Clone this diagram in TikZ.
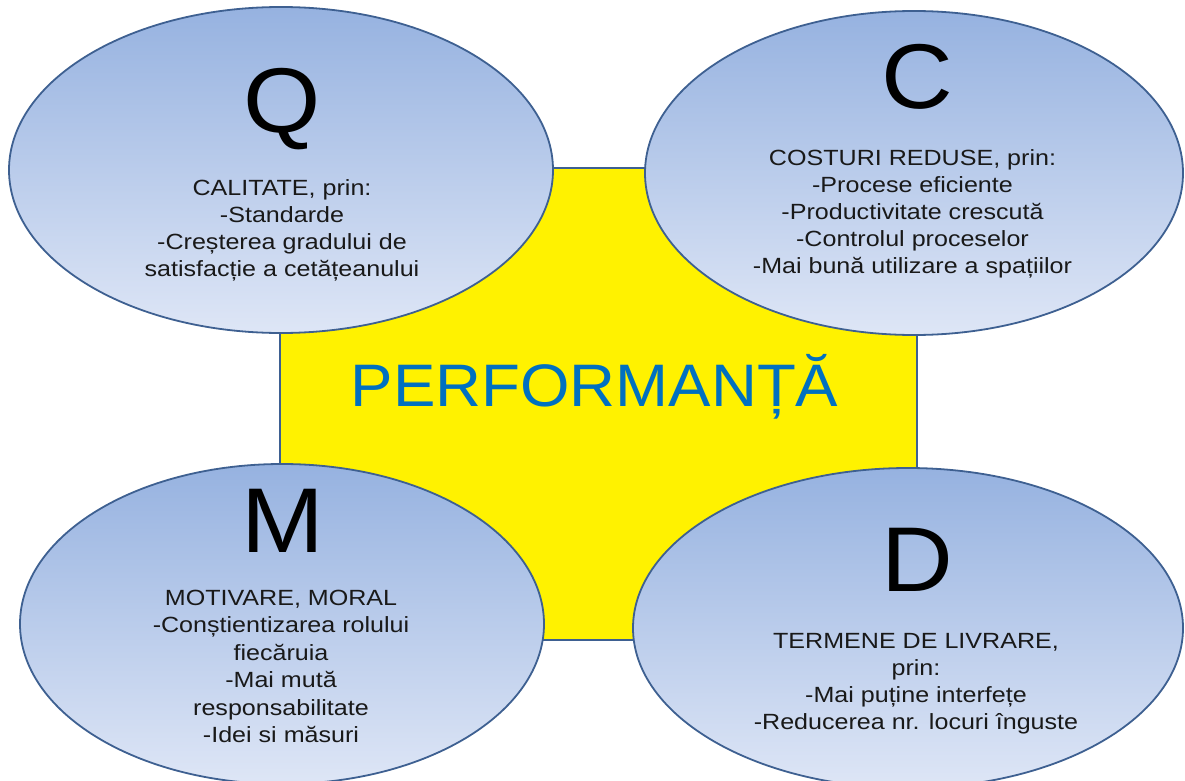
\documentclass[tikz,border=0pt]{standalone}
\usepackage{fontspec}
\setmainfont{Liberation Sans}
\usetikzlibrary{shapes.geometric}
\definecolor{ellTop}{RGB}{150,178,224}
\definecolor{ellBot}{RGB}{222,230,246}
\definecolor{ellLine}{RGB}{62,96,145}
\definecolor{perfBlue}{RGB}{0,112,192}
\begin{document}
\begin{tikzpicture}[x=1pt,y=-1pt,
  oval/.style={ellipse, draw=ellLine, line width=1.8pt, top color=ellTop, bottom color=ellBot, inner sep=0pt},
  bigletter/.style={font=\fontsize{92}{92}\selectfont\addfontfeature{FakeStretch=1.08}, inner sep=0pt, text=black},
  body/.style={font=\fontsize{22}{27}\selectfont\addfontfeature{FakeStretch=1.14}, align=center, inner sep=0pt, text=black!90}
]
\useasboundingbox (0,0) rectangle (1185,781);
\node (perf) [rectangle, fill=yellow, draw=ellLine, line width=1.8pt, minimum width=637pt, minimum height=472pt, inner sep=0pt] at (598.5,404) {};
\node (ptext) [font=\fontsize{60}{60}\selectfont\addfontfeature{FakeStretch=1.06}, text=perfBlue, inner sep=0pt, anchor=base] at (594.5,406) {PERFORMANȚĂ};

\node (q) [oval, minimum width=544pt, minimum height=326pt] at (281,170) {};
\node (c) [oval, minimum width=538pt, minimum height=324pt] at (914,173) {};
\node (m) [oval, minimum width=524pt, minimum height=320pt] at (282,624) {};
\node (d) [oval, minimum width=550pt, minimum height=320pt] at (908,628) {};

\node (qL) [bigletter] at (282,109) {Q};
\node (qT) [body, anchor=north] at (282,179.5) {CALITATE, prin:\\-Standarde\\-Creșterea gradului de\\satisfacție a cetățeanului};

\node (cL) [bigletter] at (917,77) {C};
\node (cT) [body, anchor=north] at (912.5,149) {COSTURI REDUSE, prin:\\-Procese eficiente\\-Productivitate crescută\\-Controlul proceselor\\-Mai bună utilizare a spațiilor};

\node (mL) [bigletter] at (283,521) {M};
\node (mT) [body, font=\fontsize{22}{27.5}\selectfont\addfontfeature{FakeStretch=1.14}, anchor=north] at (281,589.5) {MOTIVARE, MORAL\\-Conștientizarea rolului\\fiecăruia\\-Mai mută\\responsabilitate\\-Idei si măsuri};

\node (dL) [bigletter] at (917,560) {D};
\node (dT) [body, anchor=north] at (916,633) {TERMENE DE LIVRARE,\\prin:\\-Mai puține interfețe\\-Reducerea nr. locuri înguste};
\end{tikzpicture}
\end{document}
